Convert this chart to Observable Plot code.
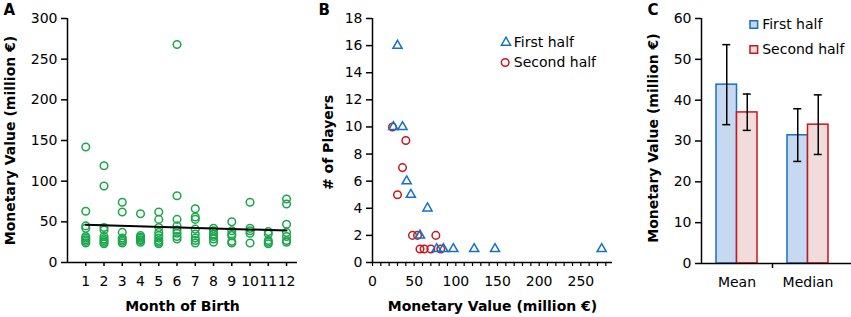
<!DOCTYPE html>
<html><head><meta charset="utf-8">
<script src="https://cdn.jsdelivr.net/npm/d3@7"></script>
<script src="https://cdn.jsdelivr.net/npm/@observablehq/plot@0.6"></script>
<style>
body{margin:0;background:#fff;}
#wrap{position:relative;width:851px;height:317px;overflow:hidden;background:#fff;}
#wrap svg{position:absolute;top:0;}
</style></head><body><div id="wrap"></div>
<script>
// ---------- Panel A data ----------
const months = [1,2,3,4,5,6,7,8,9,10,11,12];
const month1 = [142,63,45,42,32,30,28,26,24];
const month2 = [119,94,43,40,32,29,27,25,23];
const month3 = [74,62,37,30,28,26,24];
const month4 = [60,33,31,30,28,27,25];
const month5 = [62,53,43,37,33,30,27,25,23];
const month6 = [268,82,53,45,40,36,32,29];
const month7 = [66,56,53,41,35,30,27,24];
const month8 = [42,39,35,32,29,25];
const month9 = [50,39,35,33,26,24];
const month10 = [74,42,39,36,24];
const month11 = [38,35,27,25,23];
const month12 = [78,72,47,37,32,27,25];
const valuesByMonth = [month1,month2,month3,month4,month5,month6,month7,month8,month9,month10,month11,month12];
const yTicksA = [0,50,100,150,200,250,300];

// ---------- Panel B data ----------
const firstHalfValue = [25,30,36,41,46,57,66,77,85,97,122,147,275];
const firstHalfCount = [10,16,10,6,5,2,4,1,1,1,1,1,1];
const secondHalfValue = [24,30,36,40,48,54,57,62,70,76,82];
const secondHalfCount = [10,5,7,9,2,2,1,1,1,2,1];
const xTicksB = [0,50,100,150,200,250];
const yTicksB = [0,2,4,6,8,10,12,14,16,18];

// ---------- Panel C data ----------
const stats = ["Mean","Median"];
const seriesNames = ["First half","Second half"];
const firstHalfStat = [43.8,31.4];
const firstHalfLow = [34.0,25.0];
const firstHalfHigh = [53.6,37.9];
const secondHalfStat = [37.0,34.0];
const secondHalfLow = [32.6,26.7];
const secondHalfHigh = [41.5,41.3];
const yTicksC = [0,10,20,30,40,50,60];

const green = "#1ba64b", blue = "#1670c8", red = "#c8161d";
const blueFill = "#c6d9f0", redFill = "#f2dcdb";
const font = "DejaVu Sans";
const baseStyle = {fontFamily: font, fontSize: "14px", color: "#000", background: "transparent", overflow: "visible"};
const wrap = document.getElementById("wrap");
const titleOpts = {fontWeight: "bold", fontSize: 14, textAnchor: "middle", lineAnchor: "middle"};
const legendText = {textAnchor: "start", lineAnchor: "middle", fontSize: 14};
const letterOpts = {textAnchor: "start", lineAnchor: "middle", fontWeight: "bold", fontSize: 15};

// ---------- Panel A ----------
const aData = months.flatMap((m, i) => valuesByMonth[i].map(v => ({month: m, value: v})));
const plotA = Plot.plot({
  width: 300, height: 317, marginLeft: 67, marginRight: 3, marginTop: 18, marginBottom: 55,
  style: baseStyle,
  x: {domain: [0, 12.6]},
  y: {domain: [0, 300]},
  marks: [
    Plot.axisY({ticks: yTicksA, tickSize: 6, tickPadding: 4, label: null, fontSize: 14, strokeWidth: 1.5}),
    Plot.axisX({ticks: months, tickSize: 4, tickPadding: 10, label: null, fontSize: 14, strokeWidth: 1.5}),
    Plot.ruleY([0], {strokeWidth: 1.5}),
    Plot.ruleX([0], {strokeWidth: 1.5}),
    Plot.dot(aData, {x: "month", y: "value", r: 3.8, stroke: green, strokeWidth: 1.5}),
    Plot.linearRegressionY(aData, {x: "month", y: "value", ci: 0, stroke: "#000", strokeWidth: 2}),
    Plot.text(["Monetary Value (million €)"], {...titleOpts, frameAnchor: "left", rotate: -90, dx: -57}),
    Plot.text(["Month of Birth"], {...titleOpts, frameAnchor: "bottom", dy: 44}),
    Plot.text(["A"], {...letterOpts, frameAnchor: "top-left", dx: -64, dy: -8})
  ]
});
plotA.style.left = "0px";
wrap.appendChild(plotA);

// ---------- Panel B ----------
const bFirst = firstHalfValue.map((v, i) => ({value: v, count: firstHalfCount[i]}));
const bSecond = secondHalfValue.map((v, i) => ({value: v, count: secondHalfCount[i]}));
const plotB = Plot.plot({
  width: 312, height: 317, marginLeft: 72, marginRight: 0, marginTop: 18, marginBottom: 55,
  style: baseStyle,
  x: {domain: [0, 288]},
  y: {domain: [0, 18]},
  marks: [
    Plot.axisY({ticks: yTicksB, tickSize: 6, tickPadding: 4, label: null, fontSize: 14, strokeWidth: 1.5}),
    Plot.axisX({ticks: d3.range(0, 290, 10), tickFormat: d => xTicksB.includes(d) ? String(d) : "", tickSize: 4, tickPadding: 10, label: null, fontSize: 14, strokeWidth: 1.2}),
    Plot.ruleY([0], {strokeWidth: 1.5}),
    Plot.ruleX([0], {strokeWidth: 1.5}),
    Plot.dot(bSecond, {x: "value", y: "count", r: 3.8, stroke: red, strokeWidth: 1.5}),
    Plot.dot(bFirst, {x: "value", y: "count", symbol: "triangle", r: 3.4, stroke: blue, strokeWidth: 1.5}),
    Plot.dot([seriesNames[0]], {frameAnchor: "top-left", dx: 133.5, dy: 24, symbol: "triangle", r: 3.4, stroke: blue, strokeWidth: 1.5}),
    Plot.dot([seriesNames[1]], {frameAnchor: "top-left", dx: 132.7, dy: 44, r: 3.8, stroke: red, strokeWidth: 1.5}),
    Plot.text([seriesNames[0]], {...legendText, frameAnchor: "top-left", dx: 141.3, dy: 24}),
    Plot.text([seriesNames[1]], {...legendText, frameAnchor: "top-left", dx: 141.3, dy: 44}),
    Plot.text(["# of Players"], {...titleOpts, frameAnchor: "left", rotate: -90, dx: -44, dy: 2}),
    Plot.text(["Monetary Value (million €)"], {...titleOpts, frameAnchor: "bottom", dy: 44}),
    Plot.text(["B"], {...letterOpts, frameAnchor: "top-left", dx: -54, dy: -8})
  ]
});
plotB.style.left = "300px";
wrap.appendChild(plotB);

// ---------- Panel C ----------
const cFirst = stats.map((s, i) => ({stat: s, value: firstHalfStat[i], low: firstHalfLow[i], high: firstHalfHigh[i]}));
const cSecond = stats.map((s, i) => ({stat: s, value: secondHalfStat[i], low: secondHalfLow[i], high: secondHalfHigh[i]}));
const plotC = Plot.plot({
  width: 241, height: 317, marginLeft: 91, marginRight: 0, marginTop: 18, marginBottom: 54,
  style: baseStyle,
  x: {domain: stats, range: [91, 233], paddingInner: 0.4225, paddingOuter: 0.211},
  y: {domain: [0, 60]},
  marks: [
    Plot.axisY({ticks: yTicksC, tickSize: 6, tickPadding: 4, label: null, fontSize: 14, strokeWidth: 1.5}),
    Plot.axisX({tickSize: 0, tickPadding: 14, label: null, fontSize: 14}),
    Plot.barY(cFirst, {x: "stat", y: "value", insetRight: 20.5, fill: blueFill, stroke: blue, strokeWidth: 1.5}),
    Plot.barY(cSecond, {x: "stat", y: "value", insetLeft: 20.5, fill: redFill, stroke: red, strokeWidth: 1.5}),
    Plot.ruleX(cFirst, {x: "stat", y1: "low", y2: "high", dx: -10.25, strokeWidth: 1.5}),
    Plot.ruleX(cSecond, {x: "stat", y1: "low", y2: "high", dx: 10.25, strokeWidth: 1.5}),
    Plot.tickY(cFirst, {x: "stat", y: "low", insetLeft: 6.25, insetRight: 26.75, strokeWidth: 1.5}),
    Plot.tickY(cFirst, {x: "stat", y: "high", insetLeft: 6.25, insetRight: 26.75, strokeWidth: 1.5}),
    Plot.tickY(cSecond, {x: "stat", y: "low", insetLeft: 26.75, insetRight: 6.25, strokeWidth: 1.5}),
    Plot.tickY(cSecond, {x: "stat", y: "high", insetLeft: 26.75, insetRight: 6.25, strokeWidth: 1.5}),
    Plot.ruleY([0], {strokeWidth: 1.5}),
    Plot.ruleX([stats[0]], {x: d => d, y1: 0, y2: 60, dx: -35.5, strokeWidth: 1.5}),
    Plot.ruleX([stats[0]], {x: d => d, y1: 0, y2: 0, insetBottom: -5, dx: 35.5, strokeWidth: 1.5}),
    Plot.dot([seriesNames[0]], {frameAnchor: "top-left", dx: 52.3, dy: 6, symbol: "square", r: 4.3, fill: blueFill, stroke: blue, strokeWidth: 1.5}),
    Plot.dot([seriesNames[1]], {frameAnchor: "top-left", dx: 52.3, dy: 31, symbol: "square", r: 4.3, fill: redFill, stroke: red, strokeWidth: 1.5}),
    Plot.text([seriesNames[0]], {...legendText, frameAnchor: "top-left", dx: 60.7, dy: 6}),
    Plot.text([seriesNames[1]], {...legendText, frameAnchor: "top-left", dx: 60.7, dy: 31}),
    Plot.text(["Monetary Value (million €)"], {...titleOpts, frameAnchor: "left", rotate: -90, dx: -48, dy: -3}),
    Plot.text(["C"], {...letterOpts, frameAnchor: "top-left", dx: -54, dy: -8})
  ]
});
plotC.style.left = "610px";
wrap.appendChild(plotC);
</script></body></html>
